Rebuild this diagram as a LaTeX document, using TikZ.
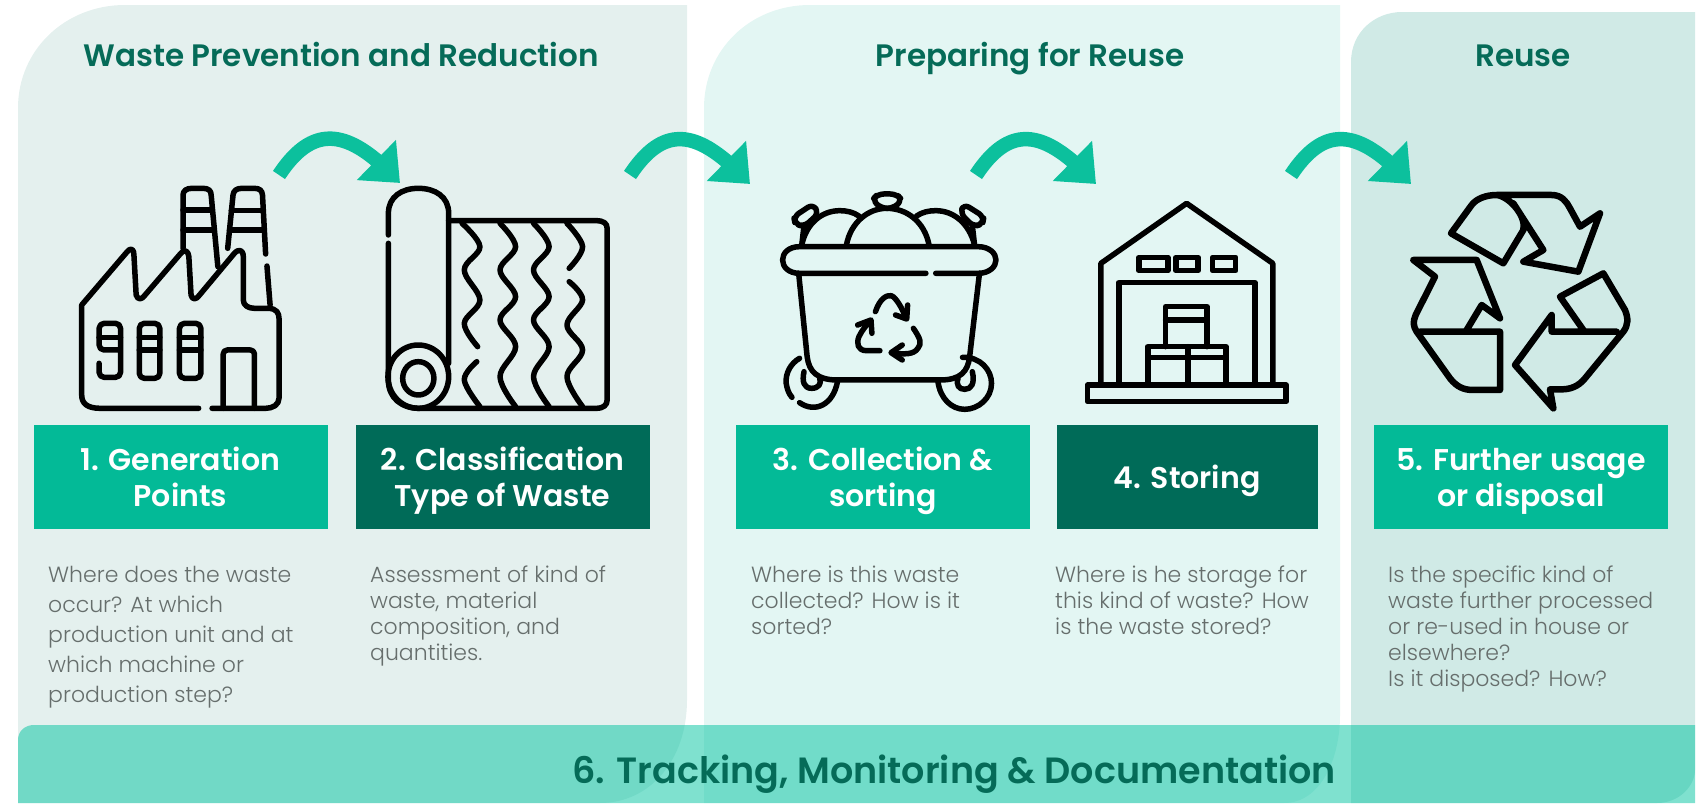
\documentclass[tikz,border=0pt]{standalone}
\usepackage{fontspec}
\setmainfont{Poppins}
\newfontfamily\headf{Poppins SemiBold}
\newfontfamily\bodyf{Poppins Light}
\usetikzlibrary{arrows.meta,bending}
\definecolor{panelA}{HTML}{E4F0EE}
\definecolor{panelB}{HTML}{E3F6F3}
\definecolor{panelC}{HTML}{D0EAE6}
\definecolor{teal}{HTML}{03BA97}
\definecolor{deep}{HTML}{006B58}
\definecolor{titlec}{HTML}{056B58}
\definecolor{bodyc}{HTML}{666E6C}
\definecolor{barc}{HTML}{00C3A0}
\definecolor{arrowc}{HTML}{0CC09D}
\tikzset{
  x=1pt,y=-1pt,
  boxA/.style={fill=teal,minimum width=294pt,minimum height=104pt,inner sep=0pt,text depth=0pt,text=white,align=center,font=\headf\fontsize{30}{36}\selectfont},
  boxB/.style={boxA,fill=deep},
  titlenode/.style={anchor=base,text=titlec,inner sep=0pt,font=\headf\fontsize{31}{34}\selectfont},
  bodytight/.style={anchor=north west,inner sep=0pt,text=bodyc,align=left,font=\bodyf\fontsize{22}{26}\selectfont},
  bodyloose/.style={bodytight,font=\bodyf\fontsize{22}{30}\selectfont},
  flow/.style={draw=arrowc,line width=14.5pt,-{Triangle[length=33pt,width=54pt,fill=arrowc,flex]}},
  icon/.style={draw=black,line width=5.5pt,line cap=round,line join=round},
  zoomA/.style={x=0.44643pt,y=-0.33333pt},
  zoomC/.style={x=0.33333pt,y=-0.33333pt}
}
\begin{document}
\begin{tikzpicture}
\path[use as bounding box] (0,0) rectangle (1699,803);
% panels
\fill[panelA] (18,803) -- (18,108) .. controls (18,50) and (65,5) .. (125,5) -- (687,5) -- (687,700) .. controls (687,760) and (650,803) .. (600,803) -- cycle;
\fill[panelB] (704,803) -- (704,108) .. controls (704,50) and (750,5) .. (810,5) -- (1340,5) -- (1340,715) .. controls (1340,760) and (1320,803) .. (1284,803) -- cycle;
\fill[panelC] (1351,803) -- (1351,62) .. controls (1351,32) and (1375,12) .. (1402,12) -- (1695,12) -- (1695,770) .. controls (1695,785) and (1680,803) .. (1657,803) -- cycle;
% bar
\fill[barc,opacity=.5] (18,803) -- (18,740) .. controls (18,731) and (25,725) .. (34,725) -- (1695,725) -- (1695,803) -- cycle;
\node[anchor=base,text=titlec,inner sep=0pt,font=\headf\fontsize{36.5}{40}\selectfont] (bar) at (954,783) {6. Tracking, Monitoring \& Documentation};
% titles
\node[titlenode] (t1) at (341,66) {Waste Prevention and Reduction};
\node[titlenode] (t2) at (1030,66) {Preparing for Reuse};
\node[titlenode] (t3) at (1523,66) {Reuse};
% boxes
\node[boxA] (b1) at (180.5,477) {1. Generation\\Points};
\node[boxB] (b2) at (502.5,477) {2. Classification\\Type of Waste};
\node[boxA] (b3) at (883,477) {3. Collection \&\\sorting};
\node[boxB,minimum width=261pt] (b4) at (1187,477) {4. Storing};
\node[boxA] (b5) at (1521,477) {5. Further usage\\or disposal};
% body
\node[bodyloose] (d1) at (48,566) {Where does the waste\\occur? At which\\production unit and at\\which machine or\\production step?};
\node[bodytight] (d2) at (370,566) {Assessment of kind of\\waste, material\\composition, and\\quantities.};
\node[bodytight] (d3) at (751,566) {Where is this waste\\collected? How is it\\sorted?};
\node[bodytight] (d4) at (1055,566) {Where is he storage for\\this kind of waste? How\\is the waste stored?};
\node[bodytight] (d5) at (1388,566) {Is the specific kind of\\waste further processed\\or re-used in house or\\elsewhere?\\Is it disposed? How?};
% arrows
\coordinate (s1) at (279,175); \coordinate (e1) at (400,183);
\coordinate (s2) at (630,175); \coordinate (e2) at (750,184);
\coordinate (s3) at (976,175); \coordinate (e3) at (1096,184);
\coordinate (s4) at (1291,175); \coordinate (e4) at (1411,184);
\foreach \i in {1,2,3,4}
  \draw[flow] (s\i) .. controls +(35,-53) and +(-50,-54) .. (e\i);
% factory
\begin{scope}[zoomA,icon]
\draw (445,1225) -- (225,1225) .. controls (195,1225) and (183,1210) .. (183,1185) -- (183,915) -- (285,755) .. controls (295,740) and (300,750) .. (300,765) -- (305,885) .. controls (308,900) and (318,900) .. (325,885) -- (405,760) .. controls (415,745) and (422,755) .. (423,770) -- (428,885) .. controls (430,900) and (440,900) .. (447,885) -- (525,760) .. controls (535,745) and (545,750) .. (545,770) -- (545,900) .. controls (545,915) and (555,925) .. (570,925) -- (600,925) .. controls (620,925) and (625,940) .. (625,955) -- (625,1195) .. controls (625,1215) and (610,1225) .. (595,1225) -- (475,1225);
\draw (410,745) -- (410,585) .. controls (410,572) and (418,565) .. (430,565) -- (455,565) .. controls (467,565) and (473,572) .. (473,585) -- (488,800);
\draw (410,630) -- (473,630) (410,690) -- (478,690);
\draw (510,745) -- (522,585) .. controls (523,572) and (530,565) .. (542,565) -- (570,565) .. controls (582,565) and (587,572) .. (588,585) -- (595,762) (598,798) -- (605,915);
\draw (518,632) -- (588,632) (514,690) -- (590,690);
\draw[rounded corners=5pt] (222,1090) -- (222,1132) -- (270,1132) -- (270,970) -- (222,970) -- (222,1050) -- (270,1050);
\draw (222,1012) -- (270,1012);
\draw[rounded corners=5pt] (312,970) rectangle (358,1135);
\draw (312,1012) -- (358,1012) (312,1050) -- (358,1050);
\draw[rounded corners=5pt] (402,970) rectangle (450,1135);
\draw (402,1012) -- (450,1012) (402,1050) -- (450,1050);
\draw[rounded corners=4pt] (500,1225) -- (500,1050) -- (570,1050) -- (570,1225);
% roll
\draw (870,705) -- (870,640) .. controls (870,590) and (900,565) .. (937,565) .. controls (975,565) and (1005,590) .. (1005,640) -- (1005,1090);
\draw (870,730) -- (870,1140) .. controls (870,1195) and (900,1225) .. (940,1225) -- (1335,1225) .. controls (1352,1225) and (1360,1215) .. (1360,1200) -- (1360,685) .. controls (1360,670) and (1352,662) .. (1335,662) -- (1005,662);
\draw (937,1130) ellipse [x radius=68,y radius=95];
\draw (937,1135) ellipse [x radius=35,y radius=50];
\draw plot[smooth,tension=.6] coordinates {(1035,670) (1075,740) (1040,810) (1075,900) (1040,970) (1070,1040)};
\draw plot[smooth,tension=.6] coordinates {(1068,1085) (1040,1140) (1075,1220)};
\draw plot[smooth,tension=.6] coordinates {(1120,670) (1155,740) (1120,810) (1155,890) (1120,960) (1155,1040) (1120,1130) (1155,1220)};
\draw plot[smooth,tension=.6] coordinates {(1195,670) (1230,740) (1195,810) (1230,890) (1195,960) (1230,1040) (1195,1130) (1230,1220)};
\draw plot[smooth,tension=.6] coordinates {(1270,670) (1305,740) (1275,805)};
\draw plot[smooth,tension=.6] coordinates {(1275,845) (1305,900) (1270,975) (1305,1050) (1270,1130) (1305,1220)};
\end{scope}
% bin and warehouse
\begin{scope}[shift={(650,0)},zoomA,icon]
\draw (618,820) -- (335,820) .. controls (310,820) and (297,800) .. (297,780) .. controls (297,760) and (310,740) .. (335,740) -- (735,740) .. controls (760,740) and (775,760) .. (775,780) .. controls (775,800) and (760,820) .. (735,820) -- (640,820);
\draw (333,820) -- (352,1070) .. controls (356,1115) and (375,1140) .. (420,1140) -- (650,1140) .. controls (695,1140) and (712,1115) .. (716,1070) -- (738,820);
% bags
\draw (440,735) .. controls (450,665) and (490,625) .. (530,625) .. controls (575,625) and (615,665) .. (625,735);
\draw (340,735) .. controls (350,670) and (385,632) .. (425,632) .. controls (440,632) and (455,636) .. (468,648);
\draw (597,648) .. controls (610,636) and (625,632) .. (640,632) .. controls (680,632) and (715,670) .. (727,735);
\draw[rounded corners=6pt] (510,582) -- (552,582) -- (565,600) -- (545,625) -- (518,625) -- (498,600) -- cycle;
\draw[rounded corners=6pt] (365,612) -- (378,640) -- (345,680) -- (325,672) -- (322,650) -- cycle;
\draw[rounded corners=6pt] (703,612) -- (748,650) -- (745,672) -- (725,680) -- (695,640) -- cycle;
\draw (345,676) -- (340,735);
\draw (722,676) -- (727,735);
% wheels
\draw (335,1075) .. controls (315,1090) and (303,1120) .. (305,1150) .. controls (307,1165) and (310,1180) .. (318,1192);
\draw (335,1208) .. controls (370,1240) and (410,1215) .. (420,1145);
\draw (345,1115) .. controls (340,1145) and (345,1165) .. (362,1165) .. controls (378,1165) and (385,1150) .. (380,1135);
\draw (700,1072) .. controls (740,1070) and (765,1110) .. (765,1150) .. controls (765,1195) and (735,1228) .. (705,1228) .. controls (675,1228) and (650,1195) .. (645,1145);
\draw (690,1135) .. controls (685,1155) and (692,1168) .. (705,1168) .. controls (720,1168) and (728,1150) .. (722,1115);
% mini recycle
\draw (505,935) .. controls (515,895) and (530,885) .. (540,887) .. controls (550,890) and (565,925) .. (572,950);
\draw (550,945) -- (575,957) -- (577,915);
\draw (590,985) .. controls (605,1015) and (610,1030) .. (600,1045) .. controls (590,1065) and (570,1062) .. (545,1060);
\draw (565,1035) -- (540,1058) -- (565,1080);
\draw (515,1052) -- (485,1052) .. controls (465,1052) and (462,1030) .. (468,1010) .. controls (475,990) and (485,975) .. (494,962);
\draw (465,975) -- (495,960) -- (497,1000);
% warehouse
\draw (1010,1150) -- (1010,790) -- (1202,610) -- (1395,790) -- (1395,1150);
\draw (980,1155) rectangle (1425,1205);
\draw (1050,1150) -- (1050,848) -- (1355,848) -- (1355,1150);
\draw (1095,772) rectangle (1160,812);
\draw (1178,772) rectangle (1228,812);
\draw (1260,772) rectangle (1312,812);
\draw (1155,1040) -- (1155,920) -- (1248,920) -- (1248,1040);
\draw (1155,960) -- (1248,960);
\draw (1115,1150) -- (1115,1040) -- (1290,1040) -- (1290,1150);
\draw (1205,1040) -- (1205,1150);
\draw (1115,1072) -- (1290,1072);
\end{scope}
% big recycle
\begin{scope}[shift={(1250,0)},zoomC,icon,line width=6.5pt]
\draw (740,585) .. controls (780,590) and (830,650) .. (820,690) -- (760,790) -- (603,700) -- (665,615) .. controls (680,595) and (710,585) .. (740,585) -- (905,585) .. controls (935,585) and (950,605) .. (960,625) -- (990,680) -- (1050,640) -- (985,815) -- (820,785) -- (880,750) -- (790,610);
\draw (650,990) -- (695,915) -- (750,955) -- (680,780) -- (490,780) -- (555,830) -- (497,945) .. controls (488,965) and (490,980) .. (500,995) -- (600,1135) .. controls (620,1160) and (640,1170) .. (670,1170) -- (750,1170) -- (750,995) -- (510,995);
\draw (1000,990) -- (930,890) -- (1060,820) -- (1125,930) .. controls (1135,955) and (1135,975) .. (1120,995) -- (1005,1135) .. controls (985,1160) and (960,1168) .. (935,1168) -- (900,1168) -- (910,1225) -- (795,1095) -- (905,945) -- (905,995) -- (1100,995);
\end{scope}
\end{tikzpicture}
\end{document}
